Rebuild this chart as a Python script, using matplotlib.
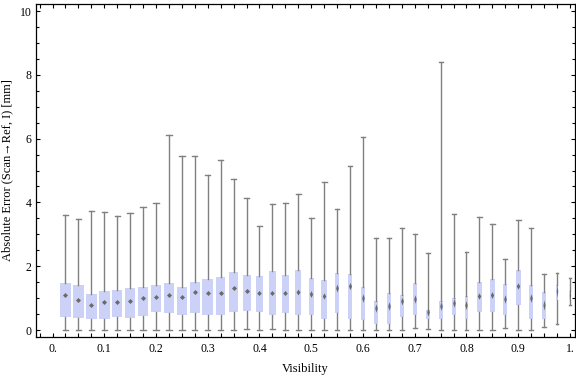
import numpy as np
import matplotlib
matplotlib.use("Agg")
import matplotlib.pyplot as plt
from matplotlib.path import Path
from matplotlib.ticker import MultipleLocator, FixedLocator

# ---- data ----
visibility = [0.025 * k for k in range(1, 41)]
whisker_lo = [0, 0, 0, 0, 0, 0, 0, 0, 0, 0,
              0, 0, 0, 0, 0.03, 0, 0.03, 0, 0, 0,
              0, 0, 0, 0, 0, 0, 0, 0.07, 0.03, 0,
              0, 0, 0, 0, 0.07, 0, 0, 0.09, 0.18, 0.77]
q1 = [0.42, 0.39, 0.33, 0.36, 0.42, 0.39, 0.43, 0.55, 0.52, 0.48,
      0.53, 0.48, 0.46, 0.55, 0.61, 0.55, 0.48, 0.52, 0.46, 0.46,
      0.36, 0.52, 0.36, 0.30, 0.18, 0.18, 0.42, 0.46, 0.33, 0.33,
      0.48, 0.34, 0.55, 0.55, 0.46, 0.77, 0.36, 0.33, 0.94, 0.95]
median = [1.09, 0.93, 0.78, 0.87, 0.87, 0.90, 0.99, 1.03, 1.09, 1.05,
          1.18, 1.16, 1.16, 1.31, 1.22, 1.15, 1.17, 1.17, 1.20, 1.12,
          1.06, 1.31, 1.38, 0.99, 0.68, 0.74, 0.90, 0.96, 0.55, 0.74,
          0.84, 0.77, 1.06, 1.10, 0.96, 1.39, 0.99, 0.77, 1.21, 1.10]
q3 = [1.48, 1.41, 1.13, 1.22, 1.27, 1.32, 1.35, 1.41, 1.48, 1.35,
      1.51, 1.60, 1.66, 1.82, 1.72, 1.68, 1.85, 1.72, 1.88, 1.63,
      1.57, 1.79, 1.75, 1.36, 0.92, 1.16, 1.10, 1.48, 0.63, 0.92,
      1.00, 1.07, 1.51, 1.60, 1.43, 1.88, 1.40, 1.19, 1.41, 1.22]
whisker_hi = [3.60, 3.47, 3.72, 3.69, 3.58, 3.66, 3.86, 3.97, 6.10, 5.45,
              5.47, 4.86, 5.32, 4.73, 4.13, 3.25, 3.94, 3.97, 4.25, 3.50,
              4.63, 3.78, 5.14, 6.05, 2.90, 2.90, 3.19, 3.01, 2.41, 8.39,
              3.63, 2.44, 3.54, 3.32, 2.23, 3.44, 3.19, 1.75, 1.78, 1.62]
# relative sample weight (drives box width, as in the reference)
sample_weight = [1.00, 1.00, 1.00, 1.00, 0.98, 0.98, 0.98, 0.98, 1.00, 0.93,
                 0.91, 1.00, 0.89, 0.81, 0.75, 0.65, 0.65, 0.65, 0.56, 0.47,
                 0.51, 0.40, 0.44, 0.37, 0.37, 0.37, 0.40, 0.37, 0.37, 0.37,
                 0.37, 0.35, 0.50, 0.47, 0.37, 0.50, 0.37, 0.31, 0.22, 0.19]
x_ticks = [0.0, 0.1, 0.2, 0.3, 0.4, 0.5, 0.6, 0.7, 0.8, 0.9, 1.0]
x_ticklabels = ["0.", "0.1", "0.2", "0.3", "0.4", "0.5", "0.6", "0.7", "0.8", "0.9", "1."]
y_ticks = [0, 2, 4, 6, 8, 10]

# ---- style ----
W, H, DPI = 576, 377, 100
BOX_COLOR = "#ccd2f7"
WHISK_COLOR = "#808080"
MED_COLOR = "#6a6a6a"
SERIF = ["Liberation Serif", "DejaVu Serif"]

fig = plt.figure(figsize=(W / DPI, H / DPI), dpi=DPI)
left, right = 36 / W, 575 / W
bottom, top = 1 - 337 / H, 1 - 4 / H
ax = fig.add_axes([left, bottom, right - left, top - bottom])
xlim = (-0.0319, 1.0097)
ylim = (-0.219, 10.22)
ax.set_xlim(*xlim)
ax.set_ylim(*ylim)

px_per_x = W * (right - left) / (xlim[1] - xlim[0])
max_box_px = 10.7
widths = [w * max_box_px / px_per_x for w in sample_weight]
capwidths = [min(5.3, w * max_box_px) / px_per_x for w in sample_weight]

stats = []
for lo, a, m, b, hi in zip(whisker_lo, q1, median, q3, whisker_hi):
    stats.append(dict(whislo=lo, q1=a, med=m, q3=b, whishi=hi, fliers=[]))

ax.bxp(stats, positions=visibility, widths=widths, capwidths=capwidths,
       patch_artist=True, showfliers=False, manage_ticks=False,
       boxprops=dict(facecolor=BOX_COLOR, edgecolor="none", linewidth=0),
       whiskerprops=dict(color=WHISK_COLOR, linewidth=1.0),
       capprops=dict(color=WHISK_COLOR, linewidth=1.0),
       medianprops=dict(linewidth=0, color="none"))

# median diamonds (width shrinks with narrow boxes, area roughly constant)
for xv, m, w in zip(visibility, median, sample_weight):
    wpx = min(5.0, 0.65 * w * max_box_px)
    hpx = max(5.0, 22.0 / wpx)
    a = wpx / hpx
    diamond = Path([(-a, 0), (0, 1), (a, 0), (0, -1), (-a, 0)],
                   [Path.MOVETO, Path.LINETO, Path.LINETO, Path.LINETO, Path.CLOSEPOLY])
    ax.plot([xv], [m], marker=diamond, markersize=hpx * 72 / DPI,
            color=MED_COLOR, markeredgewidth=0, linestyle="none", zorder=5)

# ticks / frame
ax.xaxis.set_major_locator(FixedLocator(x_ticks))
ax.set_xticklabels(x_ticklabels)
ax.xaxis.set_minor_locator(MultipleLocator(0.025))
ax.yaxis.set_major_locator(FixedLocator(y_ticks))
ax.yaxis.set_minor_locator(MultipleLocator(0.5))
ax.tick_params(axis="both", which="both", direction="in", top=True, right=True,
               width=0.8, colors="black")
ax.tick_params(axis="x", which="major", length=3.0, pad=4, labelsize=8.5)
ax.tick_params(axis="x", which="minor", length=3.0)
ax.tick_params(axis="y", which="major", length=3.0, pad=3, labelsize=8.5)
ax.tick_params(axis="y", which="minor", length=2.0)
for t in ax.get_xticklabels() + ax.get_yticklabels():
    t.set_fontfamily(SERIF)
for s in ax.spines.values():
    s.set_linewidth(0.9)
    s.set_color("black")

ax.set_xlabel("Visibility", fontsize=9, family=SERIF, labelpad=6)
ax.set_ylabel("Absolute Error (Scan\u2192Ref, I) [mm]", fontsize=9, family=SERIF, labelpad=5)

fig.savefig("out.png", dpi=DPI)
